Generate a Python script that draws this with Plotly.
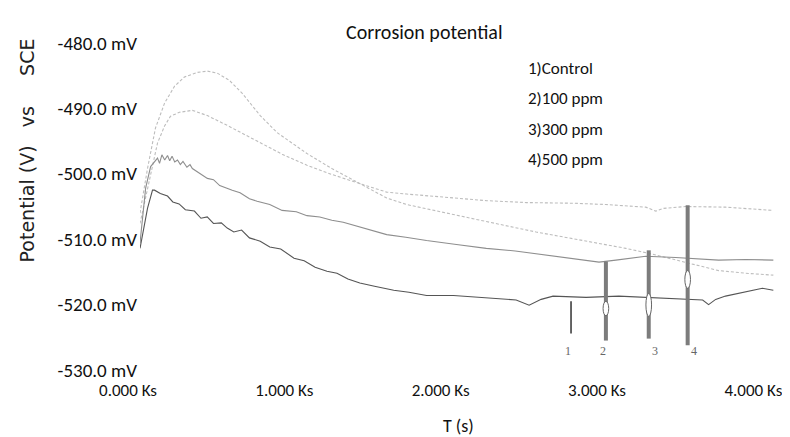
import plotly.graph_objects as go

# ---- data (time in s, potential in mV vs SCE) ----
t_500 = [0, 61, 112, 157, 195, 252, 335, 431, 558, 749, 909, 1068, 1227, 1419, 1578, 1706,
         1961, 2215, 2470, 2770, 2980, 3235, 3299, 3344, 3490, 3745, 4051]
v_500 = [-507.6, -500.7, -495.3, -492.7, -491.2, -490.6, -490.3, -491.1, -492.6, -495.0, -497.0,
         -498.7, -500.1, -501.6, -502.8, -503.1, -503.6, -504.1, -504.4, -504.5, -504.7, -505.1,
         -505.7, -505.3, -505.0, -505.1, -505.6]

t_300 = [0, 48, 99, 157, 221, 284, 367, 431, 494, 571, 654, 769, 877, 985, 1068, 1227, 1419,
         1578, 1706, 1897, 2215, 2534, 2853, 3108, 3280, 3490, 3701, 3873, 4051]
v_300 = [-506.0, -499.2, -493.0, -489.2, -486.6, -485.2, -484.5, -484.3, -484.6, -485.7, -487.7,
         -491.1, -493.7, -495.5, -496.9, -499.2, -501.6, -503.7, -504.7, -505.7, -507.3, -508.9,
         -510.3, -511.4, -512.3, -513.5, -514.8, -515.2, -515.5]

t_100 = [0, 36, 68, 90, 112, 125, 140, 158, 176, 190, 205, 222, 240, 258, 275, 300, 320, 335,
         360, 385, 431, 470, 510, 590, 640, 700, 749, 830, 909, 1000, 1068, 1150, 1227, 1300,
         1387, 1480, 1578, 1700, 1833, 2024, 2215, 2400, 2534, 2725, 2936, 3044, 3235, 3426,
         3701, 3873, 4051]
v_100 = [-510.6, -502.2, -498.9, -498.3, -497.6, -498.4, -497.1, -497.9, -497.2, -498.0, -497.3,
         -498.2, -497.9, -498.6, -498.1, -499.0, -498.6, -499.2, -499.6, -499.9, -500.7, -500.9,
         -501.8, -502.5, -502.9, -503.8, -504.2, -504.7, -505.6, -505.8, -506.4, -506.6, -507.1,
         -507.4, -508.0, -508.6, -509.3, -509.7, -510.2, -510.8, -511.4, -511.8, -512.2, -512.8,
         -513.5, -513.2, -512.6, -512.8, -513.2, -513.1, -513.2]

t_ctrl = [0, 48, 80, 93, 130, 176, 210, 250, 290, 348, 390, 430, 470, 520, 558, 600, 650, 700,
          769, 830, 900, 985, 1050, 1120, 1196, 1260, 1330, 1406, 1500, 1623, 1720, 1833, 2005,
          2215, 2406, 2489, 2566, 2642, 2853, 3063, 3299, 3599, 3637, 3682, 3745, 3873, 3981, 4051]
v_ctrl = [-511.4, -505.3, -502.5, -502.5, -503.0, -503.4, -504.3, -504.6, -505.5, -505.7, -506.8,
          -506.6, -507.6, -507.5, -508.3, -508.9, -508.6, -509.8, -510.3, -511.2, -511.5, -512.9,
          -513.3, -514.3, -514.9, -515.2, -516.1, -516.7, -517.2, -517.8, -518.1, -518.6, -518.6,
          -519.0, -519.3, -520.1, -519.2, -518.7, -518.9, -518.7, -519.0, -519.3, -520.0, -519.2,
          -518.7, -518.1, -517.5, -517.8]

series_names = ["1)Control", "2)100 ppm", "3)300 ppm", "4)500 ppm"]

# marker pins
pin_t = [2757, 2980, 3254, 3503]
pin_top = [-519.5, -513.4, -511.7, -504.8]
pin_bottom = [-524.4, -525.5, -525.2, -526.2]
pin_labels = ["1", "2", "3", "4"]
pin_label_t = [2738, 2961, 3293, 3541]
oval_top = [None, -519.5, -518.3, -514.8]
oval_bottom = [None, -521.7, -521.8, -517.5]

y_ticks = [-480, -490, -500, -510, -520, -530]
y_ticktext = ["-480.0 mV", "-490.0 mV", "-500.0 mV", "-510.0 mV", "-520.0 mV", "-530.0 mV"]
x_ticks = [0, 1000, 2000, 3000, 4000]
x_ticktext = ["0.000 Ks", "1.000 Ks", "2.000 Ks", "3.000 Ks", "4.000 Ks"]

TICKFONT = "Carlito, Lato, sans-serif"

fig = go.Figure()

curves = [
    (t_500, v_500, "#bdbdbd", 1.1, "3px,2px", series_names[3]),
    (t_300, v_300, "#bdbdbd", 1.1, "3px,2px", series_names[2]),
    (t_100, v_100, "#8e8e8e", 1.1, "solid", series_names[1]),
    (t_ctrl, v_ctrl, "#555555", 1.1, "solid", series_names[0]),
]
for t, v, c, w, d, n in curves:
    fig.add_trace(go.Scatter(x=t, y=v, mode="lines", name=n, showlegend=False,
                             line=dict(color=c, width=w, dash=d)))

# pins
for i, (pt, ptop, pbot) in enumerate(zip(pin_t, pin_top, pin_bottom)):
    if i == 0:
        ln = dict(color="#333333", width=1.5)
    else:
        ln = dict(color="#7c7c7c", width=4)
    fig.add_trace(go.Scatter(x=[pt, pt], y=[ptop, pbot], mode="lines", line=ln,
                             showlegend=False, hoverinfo="skip"))
    if oval_top[i] is not None:
        fig.add_shape(type="circle", xref="x", yref="y", x0=pt - 18, x1=pt + 18,
                      y0=oval_bottom[i], y1=oval_top[i], fillcolor="white",
                      line=dict(color="#666666", width=1))

for lab, lt in zip(pin_labels, pin_label_t):
    fig.add_annotation(x=lt, y=-527.1, xref="x", yref="y", text=lab, showarrow=False,
                       font=dict(family="Liberation Serif, serif", size=12, color="#666666"))

# title & legend text
fig.add_annotation(x=0.4436, y=1.033, xref="paper", yref="paper", text="Corrosion potential",
                   showarrow=False, xanchor="center", yanchor="middle",
                   font=dict(family=TICKFONT, size=20, color="#111111"))
legend_y = [0.922, 0.829, 0.736, 0.644]
for name, ly in zip(series_names, legend_y):
    fig.add_annotation(x=0.6024, y=ly, xref="paper", yref="paper", text=name, showarrow=False,
                       xanchor="left", yanchor="middle",
                       font=dict(family=TICKFONT, size=17, color="#111111"))

# axis titles
fig.add_annotation(x=-0.176, y=0.672, xref="paper", yref="paper",
                   text="Potential (V)\u00a0\u00a0\u00a0vs\u00a0\u00a0\u00a0\u00a0\u00a0SCE",
                   textangle=-90, showarrow=False, xanchor="center", yanchor="middle",
                   font=dict(family="DejaVu Sans, sans-serif", size=19, color="#222222"))
fig.add_annotation(x=0.4966, y=-0.172, xref="paper", yref="paper", text="T (s)",
                   showarrow=False, xanchor="center", yanchor="middle",
                   font=dict(family=TICKFONT, size=18, color="#111111"))

fig.update_layout(
    width=790, height=437,
    margin=dict(l=132, r=17, t=35, b=75),
    paper_bgcolor="white", plot_bgcolor="white",
    showlegend=False,
    xaxis=dict(range=[0, 4100], tickvals=x_ticks, ticktext=x_ticktext, showgrid=False,
               zeroline=False, showline=False, ticks="", ticklabelstandoff=8,
               ticklabeloverflow="allow", ticklabelshift=-12,
               tickfont=dict(family=TICKFONT, size=17, color="#111111")),
    yaxis=dict(range=[-530, -480], tickvals=y_ticks, ticktext=y_ticktext, showgrid=False,
               zeroline=False, showline=False, ticks="", ticklabelstandoff=2,
               tickfont=dict(family=TICKFONT, size=19, color="#111111")),
)

fig.write_html("out.html")
